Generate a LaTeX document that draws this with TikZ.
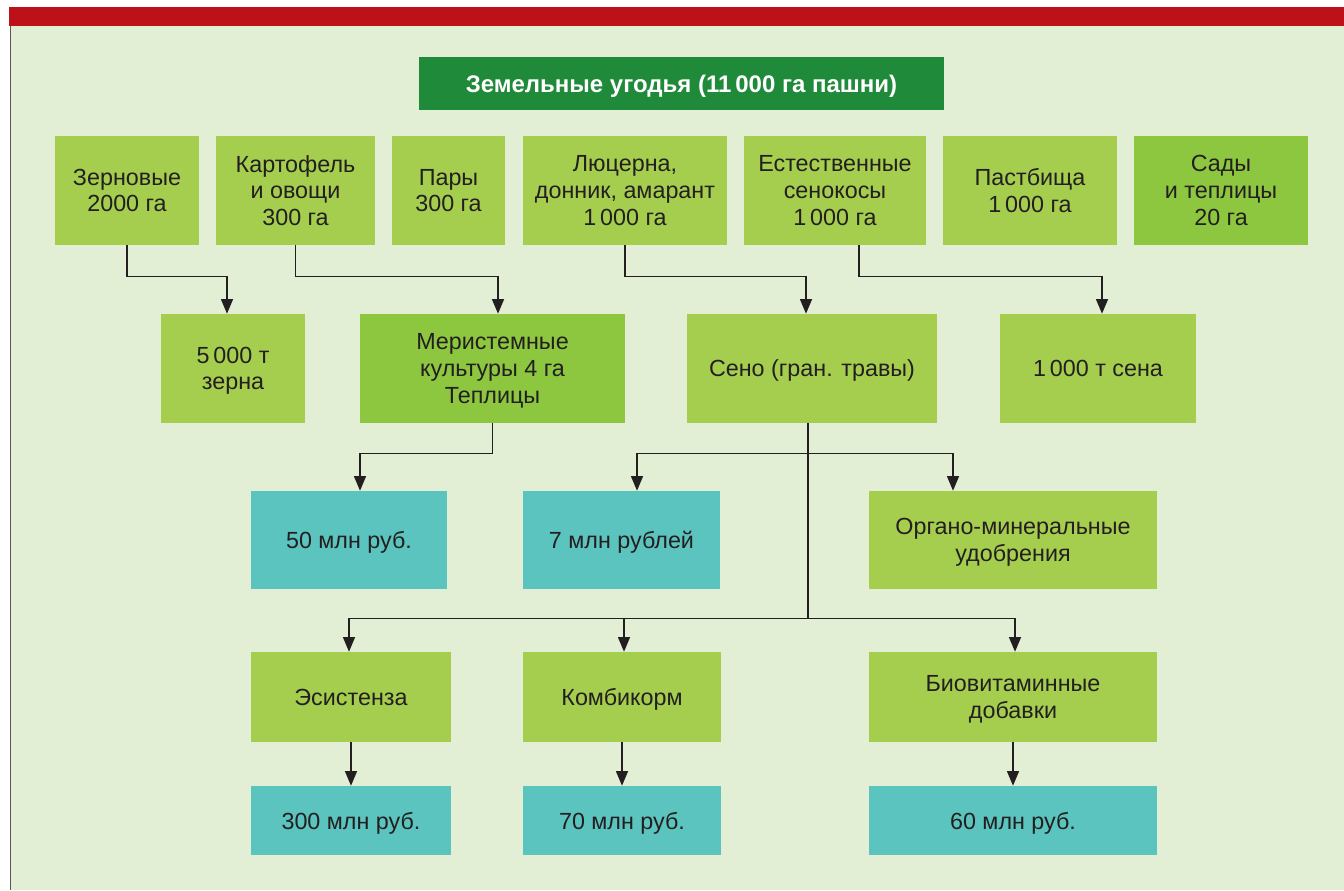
\documentclass[tikz,border=0pt]{standalone}
\usepackage{fontspec}
\setmainfont{Liberation Sans}
\usetikzlibrary{arrows.meta,calc,positioning}

\definecolor{barred}{HTML}{BE1018}
\definecolor{bgpale}{HTML}{E2EFD5}
\definecolor{headgreen}{HTML}{1F8A3A}
\definecolor{lightgreen}{HTML}{A6CE4E}
\definecolor{midgreen}{HTML}{8DC63F}
\definecolor{tealbox}{HTML}{5BC4BE}
\definecolor{inkdark}{HTML}{231F20}

\newcommand{\boxfont}{\fontsize{17.5pt}{20pt}\selectfont}
\newcommand{\headfont}{\fontsize{18pt}{21pt}\selectfont\bfseries}

\begin{document}
\begin{tikzpicture}[
    x=0.75pt, y=-0.75pt, % one unit = one pixel of the layout, y downwards
    every node/.style={inner sep=0pt, align=center, text depth=0pt, text=inkdark, font=\boxfont}, % plain centred text
    sz/.style 2 args={minimum width=#1*0.75pt, minimum height=#2*0.75pt}, % box size in pixels
    box/.style={fill=lightgreen}, % light green box
    darkbox/.style={fill=midgreen}, % stronger green box
    money/.style={fill=tealbox}, % result in roubles
    link/.style={line width=1pt, draw=inkdark}, % plain connector
    arr/.style={link, -{Triangle[length=11pt,width=9pt]}} % connector with arrow
]

    % Frame: red bar, pale background, left rule
    \useasboundingbox (0,0) rectangle (1344,890);
    \fill[bgpale] (10,26) rectangle (1344,890);
    \fill[barred] (9,7) rectangle (1344,26);
    \draw[inkdark!75, line width=1.2pt] (10.5,26) -- (10.5,890);

    % Header
    \node[fill=headgreen, text=white, font=\headfont, sz={525}{53}] (land) at (681.5,83.5) {Земельные угодья (11\,000 га пашни)};

    % First row: land use
    \node[box, sz={144}{109}] (zern) at (127,190.5) {Зерновые\\2000 га};
    \node[box, sz={159}{109}] (kart) at (295.5,190.5) {Картофель\\и овощи\\300 га};
    \node[box, sz={113}{109}] (pary) at (448.5,190.5) {Пары\\300 га};
    \node[box, sz={204}{109}] (lyuc) at (625,190.5) {Люцерна,\\донник, амарант\\1\,000 га};
    \node[box, sz={182}{109}] (senok) at (835,190.5) {Естественные\\сенокосы\\1\,000 га};
    \node[box, sz={174}{109}] (past) at (1030,190.5) {Пастбища\\1\,000 га};
    \node[darkbox, sz={174}{109}] (sady) at (1221,190.5) {Сады\\и теплицы\\20 га};

    % Second row: products
    \node[box, sz={144}{109}] (zerno) at (233,368.5) {5\,000 т\\зерна};
    \node[darkbox, sz={265}{109}] (meri) at (492.5,368.5) {Меристемные\\культуры 4 га\\Теплицы};
    \node[box, sz={250}{109}] (seno) at (812,368.5) {Сено (гран. травы)};
    \node[box, sz={196}{109}] (seno1000) at (1098,368.5) {1\,000 т сена};

    % Third row
    \node[money, sz={196}{98}] (rub50) at (349,540) {50 млн руб.};
    \node[money, sz={197}{98}] (rub7) at (621.5,540) {7 млн рублей};
    \node[box, sz={288}{98}] (udob) at (1013,540) {Органо-минеральные\\удобрения};

    % Fourth row: processing
    \node[box, sz={200}{90}] (esis) at (351,697) {Эсистенза};
    \node[box, sz={198}{90}] (komb) at (622,697) {Комбикорм};
    \node[box, sz={288}{90}] (biov) at (1013,697) {Биовитаминные\\добавки};

    % Fifth row: revenue
    \node[money, sz={200}{69}] (rub300) at (351,820.5) {300 млн руб.};
    \node[money, sz={198}{69}] (rub70) at (622,820.5) {70 млн руб.};
    \node[money, sz={288}{69}] (rub60) at (1013,820.5) {60 млн руб.};

    % Connectors from the first row
    \draw[arr] (zern.south) -- ++(0,31) -| ($(zerno.north)+(-6,0)$);
    \draw[arr] (kart.south) -- ++(0,31) -| ($(meri.north)+(5.5,0)$);
    \draw[arr] (lyuc.south) -- ++(0,31) -| ($(seno.north)+(-6,0)$);
    \draw[arr] ($(senok.south)+(24,0)$) -- ++(0,31) -| ($(seno1000.north)+(4,0)$);

    % Greenhouses to money
    \draw[arr] (meri.south) -- ++(0,30) -| ($(rub50.north)+(11,0)$);

    % Hay trunk and its branches
    \coordinate (fork1) at ($(seno.south)+(-4,30)$);
    \coordinate (fork2) at ($(seno.south)+(-4,195)$);
    \draw[link] ($(seno.south)+(-4,0)$) -- (fork2);
    \draw[arr] (fork1) -| ($(rub7.north)+(15.5,0)$);
    \draw[arr] (fork1) -| ($(udob.north)+(-60,0)$);
    \draw[arr] (fork2) -| ($(esis.north)+(-2,0)$);
    \draw[arr] (fork2) -| ($(komb.north)+(2,0)$);
    \draw[arr] (fork2) -| ($(biov.north)+(2,0)$);

    % Processing to revenue
    \draw[arr] (esis.south) -- (rub300.north);
    \draw[arr] (komb.south) -- (rub70.north);
    \draw[arr] (biov.south) -- (rub60.north);
\end{tikzpicture}
\end{document}
